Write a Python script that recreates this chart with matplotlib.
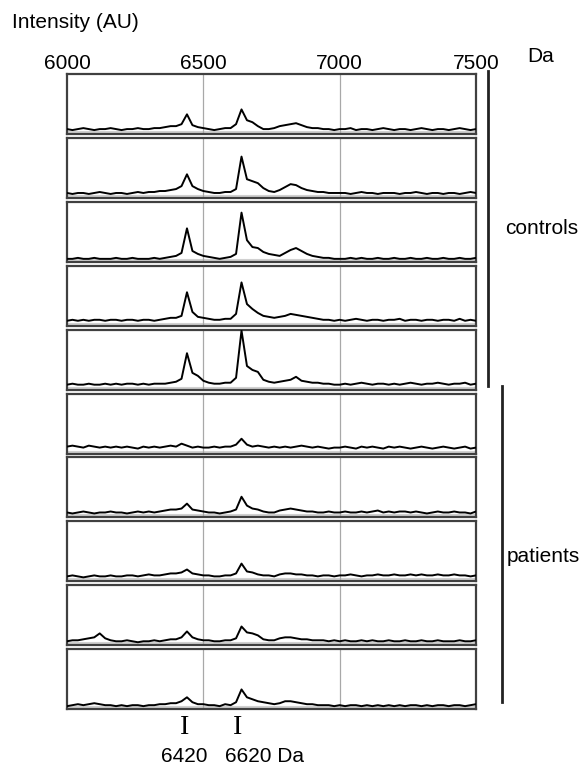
import numpy as np
import matplotlib.pyplot as plt
from matplotlib.lines import Line2D
from matplotlib import transforms

plt.rcParams['font.family'] = ['Liberation Sans', 'DejaVu Sans']

# mass axis (Da), one reading every 20 Da
mass = np.arange(6000, 7501, 20)

# intensities (AU), 76 values per spectrum
ctrl1 = [5, 4, 5, 6, 5, 4, 5, 5, 6, 5,
         4, 5, 5, 6, 5, 5, 6, 6, 7, 8,
         8, 10, 20, 9, 7, 6, 5, 4, 5, 6,
         6, 10, 25, 14, 12, 8, 5, 5, 6, 8,
         9, 10, 11, 9, 7, 6, 6, 5, 5, 4,
         5, 5, 6, 4, 5, 5, 4, 5, 6, 5,
         4, 5, 5, 4, 5, 6, 5, 4, 5, 5,
         4, 5, 6, 5, 4, 5]
ctrl2 = [5, 4, 5, 5, 4, 5, 6, 5, 4, 5,
         5, 4, 5, 6, 5, 6, 6, 7, 7, 8,
         9, 12, 24, 12, 9, 7, 6, 5, 5, 6,
         6, 9, 42, 19, 17, 15, 10, 7, 6, 8,
         11, 14, 13, 10, 8, 7, 6, 6, 5, 5,
         5, 5, 4, 5, 6, 5, 5, 4, 5, 5,
         5, 4, 5, 5, 6, 5, 4, 5, 5, 4,
         5, 5, 4, 5, 6, 5]
ctrl3 = [3, 3, 4, 3, 3, 4, 3, 3, 3, 4,
         3, 3, 4, 3, 3, 3, 4, 3, 4, 5,
         6, 9, 34, 11, 8, 6, 5, 4, 3, 4,
         5, 8, 50, 22, 15, 14, 10, 8, 7, 6,
         9, 12, 14, 11, 8, 6, 5, 4, 4, 3,
         3, 3, 4, 3, 4, 3, 3, 4, 3, 3,
         4, 3, 3, 4, 3, 3, 4, 3, 3, 4,
         3, 3, 4, 3, 3, 4]
ctrl4 = [5, 6, 5, 6, 5, 6, 6, 5, 6, 6,
         5, 6, 6, 5, 6, 6, 5, 6, 7, 8,
         8, 10, 34, 14, 9, 8, 7, 6, 6, 7,
         7, 12, 44, 22, 17, 13, 10, 9, 8, 9,
         10, 12, 11, 10, 9, 8, 7, 6, 6, 5,
         6, 5, 6, 7, 6, 5, 6, 6, 5, 6,
         6, 7, 5, 6, 6, 5, 6, 6, 5, 6,
         6, 5, 7, 5, 6, 5]
ctrl5 = [5, 6, 5, 5, 6, 5, 5, 6, 5, 6,
         5, 6, 6, 5, 6, 5, 6, 6, 6, 7,
         8, 11, 37, 17, 14, 9, 7, 6, 6, 7,
         7, 12, 60, 24, 20, 18, 10, 8, 7, 8,
         9, 10, 13, 9, 8, 7, 7, 6, 6, 5,
         5, 6, 5, 6, 7, 6, 5, 6, 6, 5,
         6, 5, 6, 7, 6, 5, 6, 6, 7, 6,
         5, 6, 6, 7, 5, 6]
pat1 = [7, 8, 7, 6, 8, 7, 6, 7, 6, 7,
        6, 7, 6, 5, 7, 6, 7, 6, 7, 8,
        7, 10, 8, 6, 7, 6, 6, 7, 6, 7,
        7, 9, 15, 9, 7, 8, 7, 6, 7, 6,
        7, 6, 7, 8, 7, 6, 7, 6, 5, 6,
        6, 7, 6, 5, 7, 6, 7, 6, 5, 7,
        6, 7, 6, 5, 6, 7, 6, 5, 6, 7,
        6, 5, 6, 7, 5, 6]
pat2 = [5, 4, 5, 6, 5, 4, 5, 5, 6, 5,
        5, 4, 5, 6, 5, 6, 5, 6, 7, 8,
        8, 9, 14, 8, 7, 6, 5, 5, 4, 5,
        6, 8, 21, 12, 9, 8, 6, 5, 5, 7,
        8, 9, 8, 7, 6, 6, 5, 5, 6, 5,
        5, 6, 5, 5, 6, 5, 6, 7, 5, 6,
        5, 6, 6, 5, 6, 5, 4, 5, 6, 5,
        5, 6, 5, 5, 4, 6]
pat3 = [5, 6, 5, 4, 5, 6, 5, 5, 6, 5,
        5, 6, 6, 5, 6, 7, 6, 6, 7, 8,
        8, 9, 12, 8, 7, 6, 6, 5, 5, 6,
        6, 8, 18, 10, 9, 7, 6, 6, 5, 7,
        8, 8, 7, 7, 6, 6, 5, 6, 6, 5,
        6, 6, 7, 6, 5, 6, 6, 7, 6, 6,
        7, 6, 6, 7, 6, 7, 6, 6, 7, 6,
        6, 7, 6, 6, 5, 6]
pat4 = [4, 5, 5, 6, 7, 8, 12, 7, 5, 4,
        4, 5, 4, 3, 4, 4, 5, 4, 5, 6,
        6, 8, 14, 8, 6, 5, 5, 4, 4, 5,
        5, 7, 19, 13, 12, 10, 6, 5, 5, 7,
        8, 8, 7, 6, 6, 5, 5, 5, 4, 5,
        4, 5, 4, 4, 5, 4, 5, 4, 4, 5,
        4, 4, 5, 4, 4, 5, 4, 4, 5, 4,
        4, 4, 5, 4, 4, 5]
pat5 = [3, 4, 5, 4, 5, 6, 5, 4, 4, 3,
        4, 3, 4, 4, 3, 4, 4, 5, 5, 6,
        6, 8, 12, 7, 5, 5, 4, 4, 3, 5,
        4, 7, 20, 12, 10, 8, 7, 6, 5, 6,
        8, 8, 7, 6, 5, 5, 4, 4, 4, 3,
        4, 3, 4, 4, 3, 4, 3, 4, 3, 4,
        3, 4, 3, 4, 4, 3, 4, 3, 4, 4,
        3, 4, 4, 3, 4, 5]

spectra = [ctrl1, ctrl2, ctrl3, ctrl4, ctrl5, pat1, pat2, pat3, pat4, pat5]
top_ticks = [6000, 6500, 7000, 7500]
marks = [6433, 6627]

W, H = 587, 765
fig = plt.figure(figsize=(W / 100, H / 100), dpi=100)

axes = []
for i, vals in enumerate(spectra):
    top = 74 + i * 63.9
    ax = fig.add_axes([67 / W, 1 - (top + 60) / H, 409 / W, 60 / H])
    ax.axhline(2, color='#d0d0d0', lw=1.5, zorder=1)
    for g in (6500, 7000):
        ax.axvline(g, color='#a8a8a8', lw=0.9, zorder=1)
    ax.plot(mass, vals, color='black', lw=1.4, zorder=3)
    ax.set_xlim(6000, 7500)
    ax.set_ylim(0, 61)
    ax.set_xticks([])
    ax.set_yticks([])
    for s in ax.spines.values():
        s.set_color('#404040')
        s.set_linewidth(1.6)
    axes.append(ax)

# mass labels along the top
axes[0].xaxis.tick_top()
axes[0].set_xticks(top_ticks)
axes[0].set_xticklabels([str(t) for t in top_ticks], fontsize=15)
axes[0].tick_params(axis='x', length=0, pad=1)

fig.text(12 / W, 1 - 23 / H, 'Intensity (AU)', fontsize=15, va='center')
fig.text(527 / W, 1 - 57 / H, 'Da', fontsize=15, va='center', ha='left')

# group brackets
fig.add_artist(Line2D([488 / W] * 2, [1 - 71 / H, 1 - 386 / H], color='#222222', lw=2))
fig.add_artist(Line2D([502 / W] * 2, [1 - 386 / H, 1 - 702 / H], color='#222222', lw=2))
fig.text(505 / W, 1 - 228 / H, 'controls', fontsize=15, va='center')
fig.text(507 / W, 1 - 557 / H, 'patients', fontsize=15, va='center')

# peak markers under the bottom panel
tr = transforms.blended_transform_factory(axes[-1].transData, fig.transFigure)
for m in marks:
    fig.text(m, 1 - 727 / H, 'I', transform=tr, fontsize=20, ha='center', va='center',
             family=['Liberation Serif', 'DejaVu Serif'])
fig.text(184 / W, 1 - 757 / H, '6420', fontsize=15, ha='center', va='center')
fig.text(225 / W, 1 - 757 / H, '6620 Da', fontsize=15, ha='left', va='center')

fig.savefig('out.png', dpi=100)
